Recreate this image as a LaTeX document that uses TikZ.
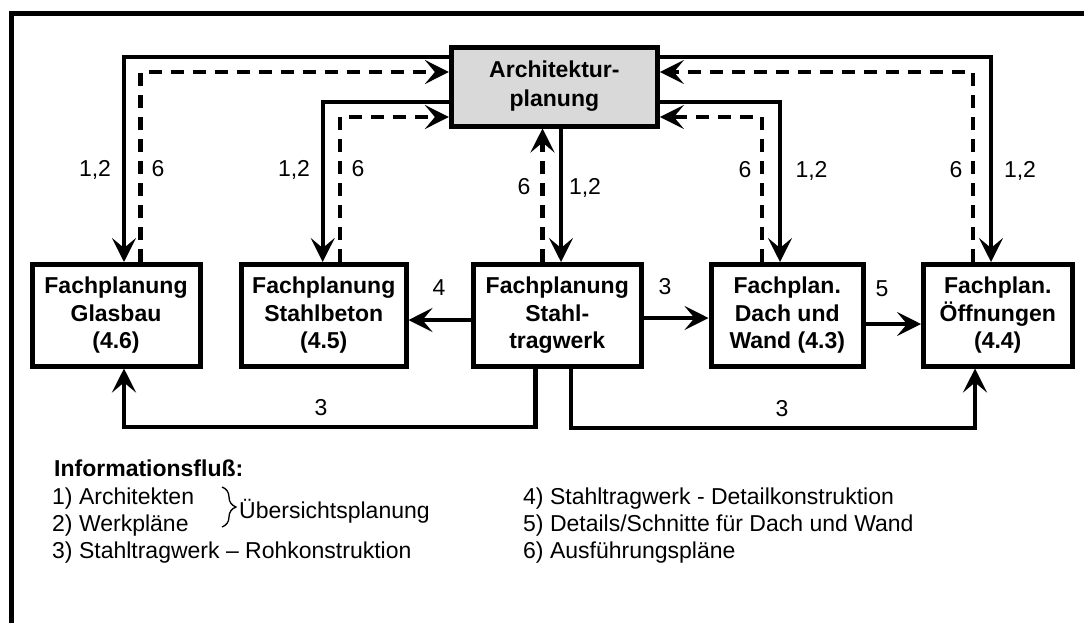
\documentclass[tikz,border=0pt]{standalone}
\usepackage{fontspec}
\setmainfont{Liberation Sans}
\usetikzlibrary{arrows.meta,decorations.pathreplacing}
\definecolor{archgray}{RGB}{217,217,217}
\begin{document}
\begin{tikzpicture}[x=1pt,y=-1pt,
  every node/.style={font=\fontsize{23}{27.3}\selectfont},
  box/.style={draw, line width=5pt, inner sep=0pt, align=center,
    font=\fontsize{23}{27.5}\selectfont\bfseries, minimum height=101.5pt},
  flow/.style={line width=4.2pt, -{Stealth[length=24pt,width=24pt,inset=10pt]}},
  back/.style={flow, dash pattern=on 13pt off 9pt},
  num/.style={anchor=base, inner sep=0pt},
  legend/.style={anchor=base west, inner sep=0pt},
  ]
\useasboundingbox (0,0) rectangle (1084,622);
\clip (0,0) rectangle (1084,622);

% outer frame (runs off the page on the right and at the bottom)
\draw[line width=5pt] (11,700) -- (11,13) -- (1100,13);

% planning units
\node[box, fill=archgray, minimum width=206pt, minimum height=79pt,
  font=\fontsize{23}{29}\selectfont\bfseries] (arch) at (554.4,86.5) {Architektur-\\planung};
\node[box, minimum width=168pt]   (glas)  at (116,315.25)    {Fachplanung\\Glasbau\\(4.6)};
\node[box, minimum width=164.5pt] (beton) at (323.75,315.25) {Fachplanung\\Stahlbeton\\(4.5)};
\node[box, minimum width=167.5pt] (stahl) at (557.25,315.25) {Fachplanung\\Stahl-\\tragwerk};
\node[box, minimum width=152.5pt] (dach)  at (787.25,315.25) {Fachplan.\\Dach und\\Wand (4.3)};
\node[box, minimum width=148.5pt] (oeff)  at (997.75,315.25) {Fachplan.\\Öffnungen\\(4.4)};

% overview plans down, execution plans back up
\draw[flow] (arch.west |- 0,57) -| (glas.north -| 124,0);
\draw[back] (glas.north -| 140.5,0) |- (arch.west |- 0,72);
\draw[flow] (arch.west |- 0,102) -| (beton.north -| 322.7,0);
\draw[back] (beton.north -| 340,0) |- (arch.west |- 0,117);
\draw[back] (stahl.north -| 542.5,0) -- (arch.south -| 542.5,0);
\draw[flow] (arch.south -| 561,0) -- (stahl.north -| 561,0);
\draw[flow] (arch.east |- 0,102) -| (dach.north -| 780,0);
\draw[back] (dach.north -| 762,0) |- (arch.east |- 0,117);
\draw[flow] (arch.east |- 0,57) -| (oeff.north -| 991,0);
\draw[back] (oeff.north -| 972.7,0) |- (arch.east |- 0,72);

% flows between the specialist plannings
\draw[flow] (stahl.west |- 0,320) -- (beton.east |- 0,320);
\draw[flow] (stahl.east |- 0,318) -- (dach.west |- 0,318);
\draw[flow] (dach.east |- 0,324) -- (oeff.west |- 0,324);
\draw[flow] (stahl.south -| 535.5,0) -- ++(0,58.5) -| (glas.south -| 124,0);
\draw[flow] (stahl.south -| 571,0) -- ++(0,59.5) -| (oeff.south -| 975,0);

% flow numbers
\node[num] (n1) at (95,176)    {1,2};
\node[num] (n2) at (158,176)   {6};
\node[num] (n3) at (294,176)   {1,2};
\node[num] (n4) at (358,176)   {6};
\node[num] (n5) at (524,194)   {6};
\node[num] (n6) at (585,194)   {1,2};
\node[num] (n7) at (745,177)   {6};
\node[num] (n8) at (811.5,177) {1,2};
\node[num] (n9) at (956,177)   {6};
\node[num] (n10) at (1020,177) {1,2};
\node[num] (n11) at (439,295)  {4};
\node[num] (n12) at (665,294)  {3};
\node[num] (n13) at (882,296.5){5};
\node[num] (n14) at (321,415)  {3};
\node[num] (n15) at (782,416)  {3};

% legend
\node[legend, font=\fontsize{23}{27.3}\selectfont\bfseries] (title) at (54,476.7) {Informationsfluß:};
\node[legend] (i1) at (52,504.3) {1) Architekten};
\node[legend] (i2) at (52,531)   {2) Werkpläne};
\node[legend] (i3) at (52,558.3) {3) Stahltragwerk – Rohkonstruktion};
\draw[line width=1.3pt, decorate, decoration={brace, amplitude=14pt}] (222,487) -- (222,527);
\node[legend] (ov) at (239,518) {Übersichtsplanung};
\node[legend] (j1) at (523,504.3) {4) Stahltragwerk - Detailkonstruktion};
\node[legend] (j2) at (523,531)   {5) Details/Schnitte für Dach und Wand};
\node[legend] (j3) at (523,558.3) {6) Ausführungspläne};
\end{tikzpicture}
\end{document}
